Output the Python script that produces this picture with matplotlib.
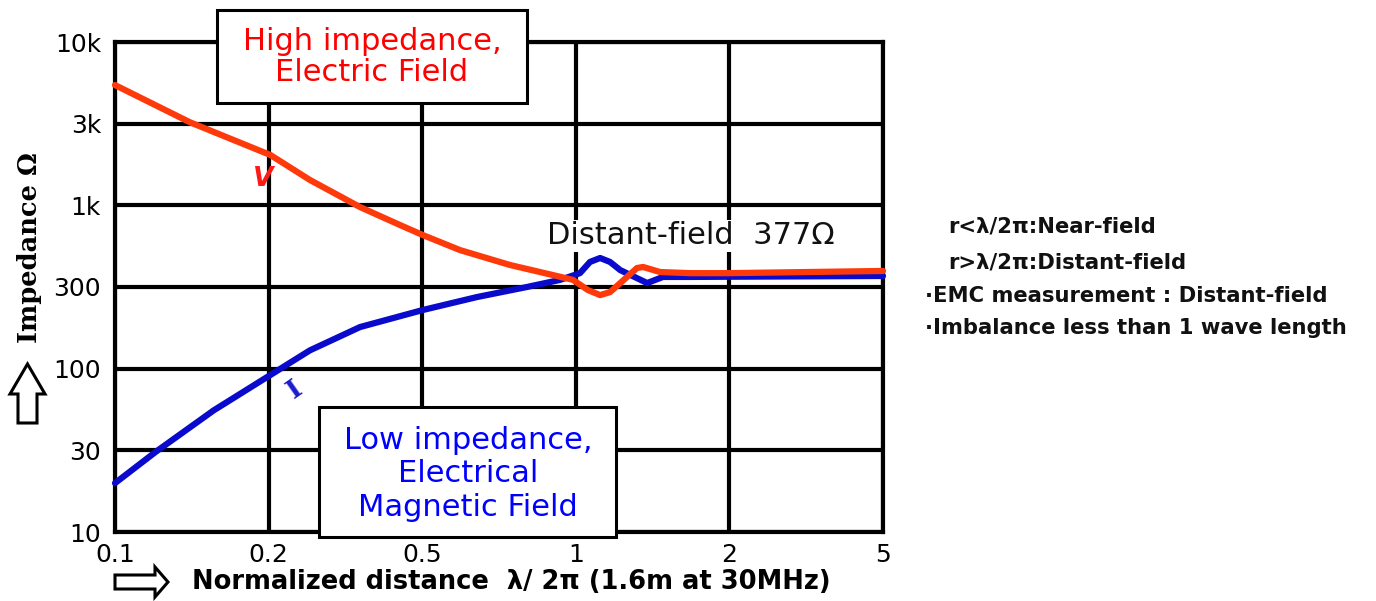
import numpy as np
import matplotlib
matplotlib.use('Agg')
import matplotlib.pyplot as plt
from matplotlib.patches import Rectangle, Polygon

plt.rcParams['font.family'] = 'DejaVu Sans'

W, H = 1376, 601

# axis ticks (evenly spaced on the chart)
x_ticks = [0.1, 0.2, 0.5, 1, 2, 5]
x_labels = ['0.1', '0.2', '0.5', '1', '2', '5']
y_ticks = [10, 30, 100, 300, 1000, 3000, 10000]
y_labels = ['10', '30', '100', '300', '1k', '3k', '10k']

# electric field (V) impedance curve
e_x = [0.1, 0.14, 0.202, 0.256, 0.345, 0.438, 0.501, 0.593, 0.743, 0.901, 0.988,
       1.056, 1.116, 1.167, 1.222, 1.318, 1.355, 1.463, 1.675, 2.0, 5.0]
e_z = [5300, 3070, 1970, 1406, 975, 748, 646, 517, 415, 358, 333,
       288, 269, 280, 318, 397, 403, 374, 368, 368, 380]

# magnetic field (I) impedance curve
h_x = [0.1, 0.12, 0.156, 0.202, 0.256, 0.345, 0.501, 0.64, 0.802, 0.931, 1.019,
       1.066, 1.116, 1.167, 1.222, 1.38, 1.482, 1.675, 5.0]
h_z = [19.3, 29.3, 54, 91, 128, 175, 220, 262, 300, 333, 368,
       434, 460, 434, 385, 318, 348, 348, 353]


def make_scale(ticks):
    lt = np.log10(ticks)
    pos = np.arange(len(ticks), dtype=float)
    lt_ext = np.concatenate([[lt[0] - 10 * (lt[1] - lt[0])], lt, [lt[-1] + 10 * (lt[-1] - lt[-2])]])
    pos_ext = np.concatenate([[-10.0], pos, [pos[-1] + 10.0]])

    def fwd(v):
        v = np.log10(np.clip(np.asarray(v, dtype=float), 1e-12, None))
        return np.interp(v, lt_ext, pos_ext)

    def inv(p):
        return 10 ** np.interp(np.asarray(p, dtype=float), pos_ext, lt_ext)

    return fwd, inv


def fx(px):
    return px / W


def fy(py):
    return 1 - py / H


fig = plt.figure(figsize=(W / 100, H / 100), dpi=100)
ax = fig.add_axes([fx(115), fy(532), (883 - 115) / W, (532 - 42) / H])

ax.set_xscale('function', functions=make_scale(x_ticks))
ax.set_yscale('function', functions=make_scale(y_ticks))
ax.set_xlim(x_ticks[0], x_ticks[-1])
ax.set_ylim(y_ticks[0], y_ticks[-1])

ax.plot(h_x, h_z, color='#0a0acc', linewidth=4.5, solid_joinstyle='round',
        solid_capstyle='round', clip_on=False, zorder=3)
ax.plot(e_x, e_z, color='#ff3a0a', linewidth=4.5, solid_joinstyle='round',
        solid_capstyle='round', clip_on=False, zorder=4)

ax.set_xticks(x_ticks)
ax.set_xticklabels(x_labels)
ax.set_yticks(y_ticks)
ax.set_yticklabels(y_labels)
ax.minorticks_off()
ax.tick_params(length=0, labelsize=18)
ax.tick_params(axis='y', pad=10)
ax.tick_params(axis='x', pad=8)
ax.grid(True, color='black', linewidth=3)
for s in ax.spines.values():
    s.set_linewidth(3)
    s.set_color('black')

# boxes with labels
fig.patches.append(Rectangle((fx(217), fy(103)), (527 - 217) / W, (103 - 10) / H,
                             transform=fig.transFigure, facecolor='white',
                             edgecolor='black', linewidth=2.2, zorder=5))
fig.text(fx(372), fy(57), 'High impedance,\nElectric Field', color='#ff0000',
         fontsize=22, ha='center', va='center', linespacing=1.1, zorder=6)

fig.patches.append(Rectangle((fx(319), fy(537)), (616 - 319) / W, (537 - 407) / H,
                             transform=fig.transFigure, facecolor='white',
                             edgecolor='black', linewidth=2.2, zorder=5))
fig.text(fx(468), fy(474), 'Low impedance,\nElectrical\nMagnetic Field', color='#0000ff',
         fontsize=22, ha='center', va='center', linespacing=1.2, zorder=6)

fig.text(fx(691), fy(236), 'Distant-field  377Ω', color='#111111', fontsize=22,
         ha='center', va='center', zorder=6,
         bbox=dict(facecolor='white', edgecolor='none', pad=1))

fig.text(fx(263), fy(179), 'V', color='#ff1a1a', fontsize=19, fontweight='bold',
         style='italic', ha='center', va='center', zorder=6)
fig.text(fx(295), fy(389), 'I', color='#1a1acc', fontsize=19, fontweight='bold',
         family='DejaVu Serif', rotation=35, ha='center', va='center', zorder=6)

# notes on the right
notes = [(948, 227, 'r<λ/2π:Near-field'),
         (948, 262, 'r>λ/2π:Distant-field'),
         (925, 296, '·EMC measurement : Distant-field'),
         (925, 328, '·Imbalance less than 1 wave length')]
for px, py, t in notes:
    fig.text(fx(px), fy(py), t, fontsize=15.2, fontweight='bold', color='#111111',
             ha='left', va='center')

# axis labels with hollow arrows
fig.text(fx(30), fy(248), 'Impedance Ω', rotation=90, fontsize=18.5, fontweight='bold',
         family='DejaVu Serif', ha='center', va='center')
up = [(27.5, 364), (45, 394), (37, 394), (37, 423), (18, 423), (18, 394), (10, 394)]
fig.patches.append(Polygon([(fx(a), fy(b)) for a, b in up], closed=True,
                           transform=fig.transFigure, facecolor='white',
                           edgecolor='black', linewidth=2.2))

fig.text(fx(192), fy(582), 'Normalized distance  λ/ 2π (1.6m at 30MHz)', fontsize=18.5,
         fontweight='bold', ha='left', va='center')
right = [(168, 582), (155, 567), (155, 575), (115, 575), (115, 589), (155, 589), (155, 597)]
fig.patches.append(Polygon([(fx(a), fy(b)) for a, b in right], closed=True,
                           transform=fig.transFigure, facecolor='white',
                           edgecolor='black', linewidth=2.2))

fig.savefig('out.png', dpi=100)
